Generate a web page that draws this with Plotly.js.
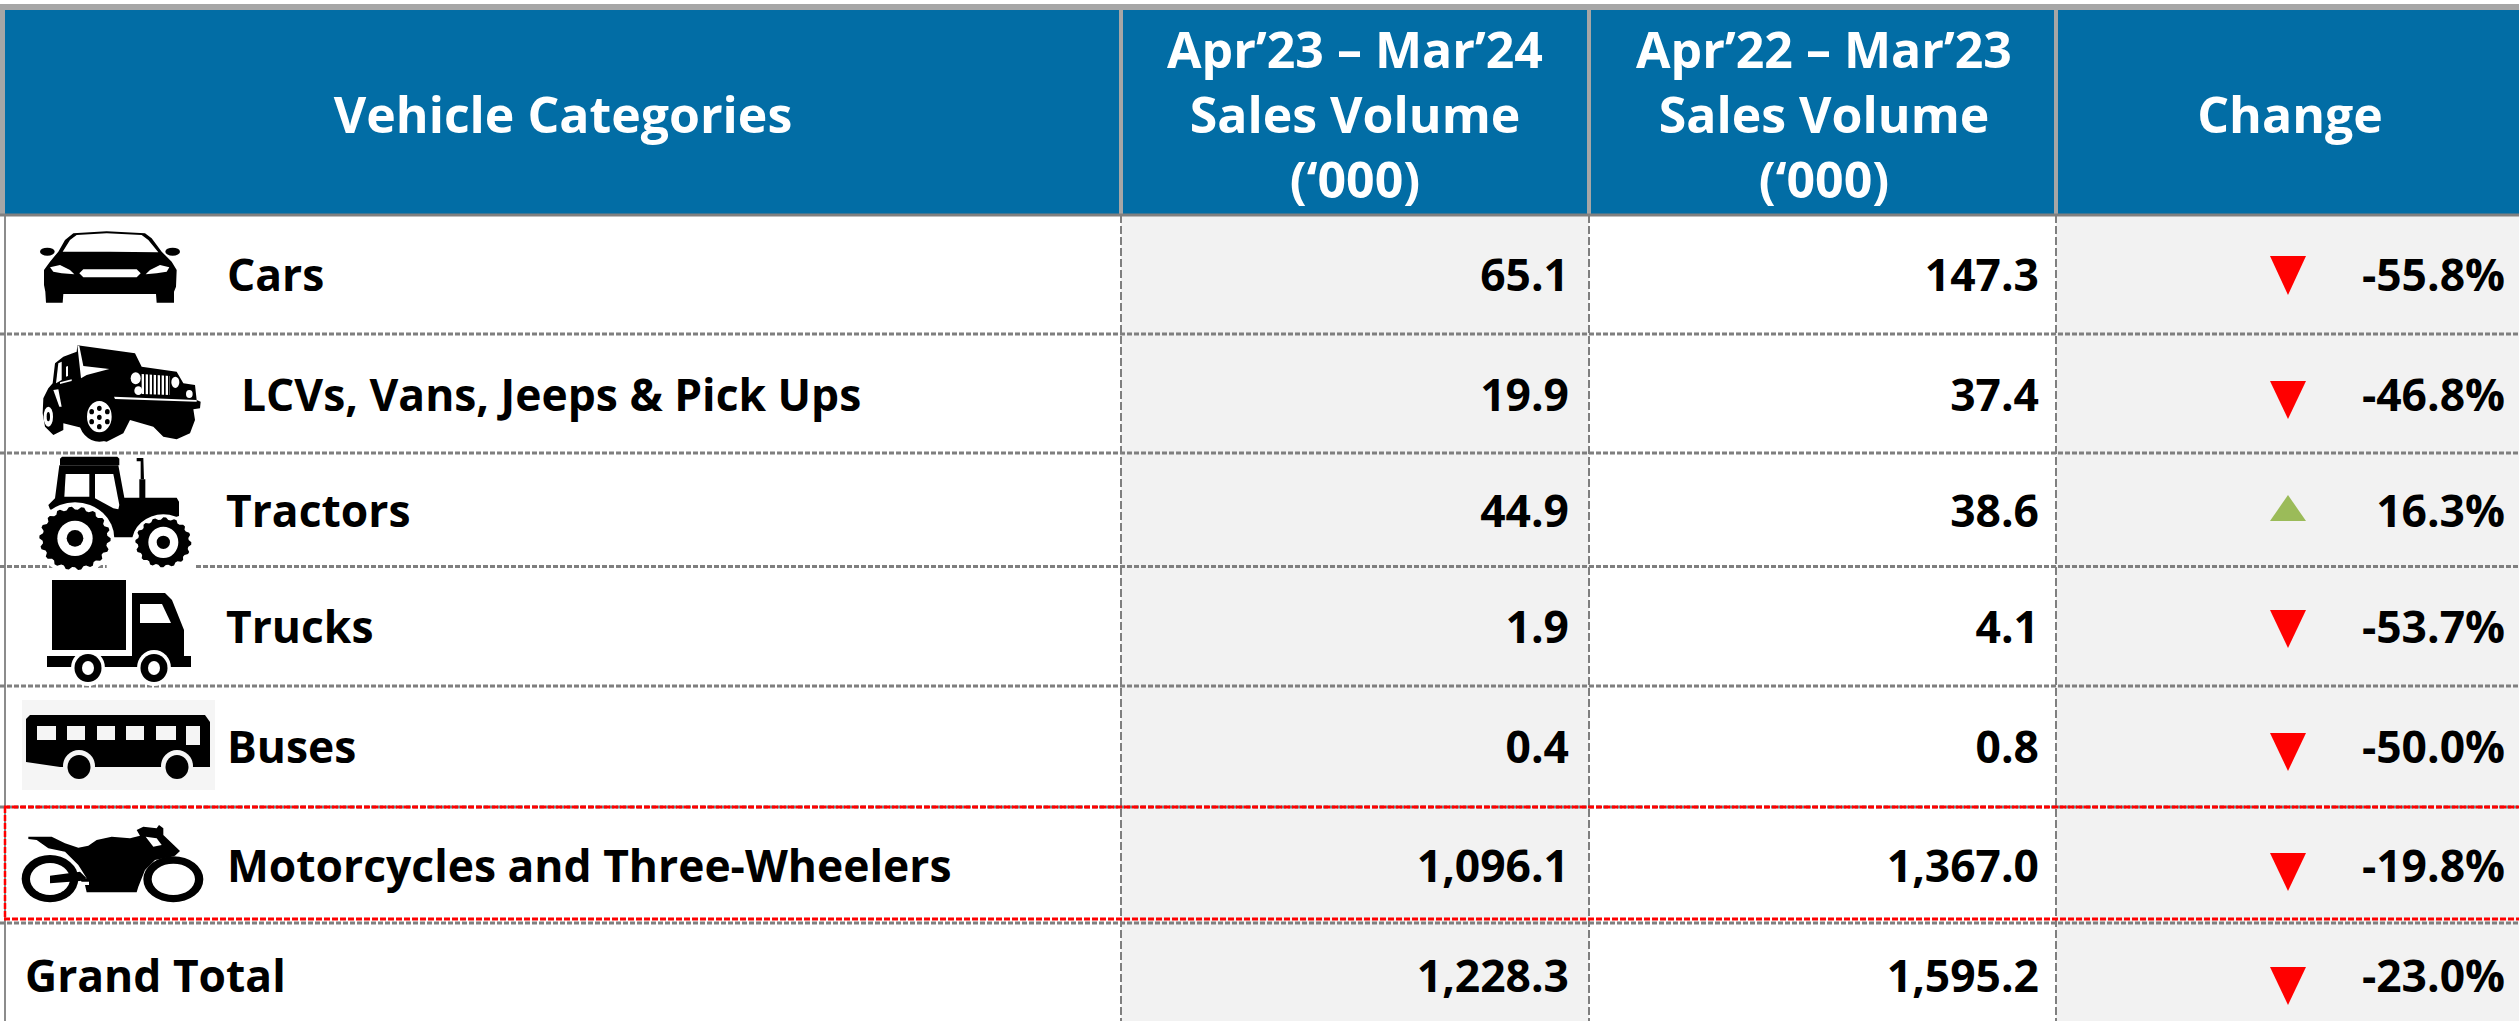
<!DOCTYPE html>
<html><head><meta charset="utf-8">
<script src="https://cdn.plot.ly/plotly-3.0.1.min.js"></script>
<style>html,body{margin:0;padding:0;background:#fff;overflow:hidden}</style>
</head><body><div id="chart" style="width:2519px;height:1021px"></div>
<script>
// ---- data ----
const headerLabels = ["Vehicle Categories","Apr’23 – Mar’24<br>Sales Volume<br>(‘000)","Apr’22 – Mar’23<br>Sales Volume<br>(‘000)","Change"];
const categories = ["Cars","LCVs, Vans, Jeeps & Pick Ups","Tractors","Trucks","Buses","Motorcycles and Three-Wheelers","Grand Total"];
const salesFY24 = [65.1,19.9,44.9,1.9,0.4,1096.1,1228.3];
const salesFY23 = [147.3,37.4,38.6,4.1,0.8,1367.0,1595.2];
const changePct = [-55.8,-46.8,16.3,-53.7,-50.0,-19.8,-23.0];

// ---- geometry of the table (pixel axes) ----
const W=2519,H=1021;
const colEdges=[5,1121,1589,2056,W];
const rowEdges=[215,334,453,566.5,686,807,923,H];
const rowTextY=[280,400,516,632,752,871,981];
const labelX=[227,241,226,226,227,227,25];
const headerX=[563,1355,1824,2290];
const headerY=[120,120,120,120];
const triY=[[256,295],[381,419],[495,521],[610,648],[733,771],[853,891],[967,1005]];
const triX=[2270,2306];
const FONT='Open Sans';
const fmt=v=>v.toLocaleString('en-US',{minimumFractionDigits:1,maximumFractionDigits:1});
const fmtPct=v=>v.toFixed(1)+'%';

const shapes=[];
const rect=(x0,y0,x1,y1,c,layer)=>shapes.push({type:'rect',x0,y0,x1,y1,fillcolor:c,line:{width:0},layer:layer||'below'});
const line=(x0,y0,x1,y1,c,w,d)=>shapes.push({type:'line',x0,y0,x1,y1,line:{color:c,width:w,dash:d||'solid'},layer:'below'});
const ell=(cx,cy,rx,ry,c)=>shapes.push({type:'circle',x0:cx-rx,x1:cx+rx,y0:cy-ry,y1:cy+ry,fillcolor:c,line:{width:0},layer:'above'});
const poly=(pts,c)=>shapes.push({type:'path',path:'M'+pts.map(p=>p.join(',')).join('L')+'Z',fillcolor:c,line:{width:0},layer:'above'});
const box=(x0,y0,x1,y1,c)=>rect(x0,y0,x1,y1,c,'above');
// icon drawing in the 3x crop coordinates of an icon box
const icon=(ox,oy)=>({
  p:(pts,c='#000')=>poly(pts.map(([x,y])=>[ox+x/3,oy+y/3]),c),
  e:(x,y,rx,ry,c='#000')=>ell(ox+x/3,oy+y/3,rx/3,ry/3,c),
  gear:(cx,cy,rx,ry,n)=>{const pts=[];for(let i=0;i<n*4;i++){const a=i/(n*4)*2*Math.PI,k=(i%4<2)?1:0.91;pts.push([cx+rx*k*Math.cos(a),cy+ry*k*Math.sin(a)]);}
    poly(pts.map(([x,y])=>[ox+x/3,oy+y/3]),'#000');}
});

// backgrounds
rect(colEdges[1],rowEdges[0],colEdges[2],H,'#f2f2f2');
rect(colEdges[3],rowEdges[0],W,H,'#f2f2f2');
rect(0,10,W,rowEdges[0],'#026da5');
rect(0,4,W,10,'#a6a6a6');
rect(0,4,5,rowEdges[0],'#a6a6a6');
for(const i of [1,2,3]) line(colEdges[i],10,colEdges[i],rowEdges[0],'#a6a6a6',4);
for(const i of [1,2,3]) line(colEdges[i],rowEdges[0],colEdges[i],H,'#7f7f7f',2,'8px,3px');
line(5,rowEdges[0],5,H,'#8c8c8c',2);
for(const i of [1,2,3,4,5,6]) line(0,rowEdges[i],W,rowEdges[i],'#7f7f7f',3,'5px,2px');
line(0,rowEdges[0],W,rowEdges[0],'#808080',3);
// highlight of the motorcycles row
line(4,807,W,807,'#ff0000',3,'6px,2px');
line(4,919,W,919,'#ff0000',3,'6px,2px');
line(5,807,5,919,'#ff0000',2.5,'6px,2px');

// change triangles, driven by the sign of the change
changePct.forEach((v,i)=>{
  const [t,b]=triY[i],[l,r]=triX,m=(l+r)/2;
  if(v<0) poly([[l,t],[r,t],[m,b]],'#ff0000');
  else poly([[l,b],[r,b],[m,t]],'#9bbb59');
});

// ---- icons ----
// car
{const k=icon(20,220);
 k.e(82,95,22,12);k.e(458,95,22,12);
 k.p([[115,95],[135,60],[160,40],[260,34],[375,40],[395,55],[425,95],[455,125],[470,150],[468,200],[462,215],[462,248],[410,248],[408,222],[130,222],[128,248],[78,248],[76,215],[72,195],[72,150],[90,125]]);
 k.p([[128,95],[150,60],[170,45],[260,40],[365,45],[385,60],[415,97],[270,95]],'#fff');
 k.p([[90,142],[120,135],[150,150],[163,163],[125,160],[100,155]],'#fff');
 k.p([[377,163],[390,150],[420,135],[448,142],[440,155],[410,160]],'#fff');
 k.p([[190,148],[350,148],[362,160],[350,172],[190,172],[178,160]],'#fff');
}
// jeep
{const k=icon(20,220);
 k.p([[172,376],[345,400],[365,440],[470,455],[490,490],[525,495],[530,540],[542,545],[540,565],[520,568],[525,600],[510,640],[470,658],[430,650],[400,620],[330,600],[310,640],[260,665],[215,655],[190,625],[130,610],[130,630],[100,645],[75,620],[68,580],[70,535],[85,505],[98,490],[105,430],[130,410],[170,395]]);
 k.e(238,597,62,68);k.e(238,590,37,47,'#fff');
 for(const [x,y] of [[238,565],[262,575],[262,605],[238,620],[215,605],[215,575],[238,592]]) k.e(x,y,7,8);
 k.e(85,590,14,30,'#fff');k.e(85,590,5,14);
 k.p([[172,376],[178,378],[190,438],[268,447],[200,465],[183,475]],'#fff');
 k.p([[108,490],[115,430],[125,425],[125,480]],'#fff');
 k.p([[138,440],[144,438],[144,468],[138,470]],'#fff');
 k.p([[120,487],[155,478],[155,483],[120,492]],'#fff');
 k.p([[100,510],[115,508],[125,560],[118,560]],'#fff');
 k.p([[365,462],[450,468],[450,525],[365,522]],'#fff');
 for(let x=372;x<448;x+=12) k.p([[x,460],[x+5,460],[x+5,528],[x,528]]);
 k.e(347,475,15,18,'#fff');k.e(355,512,12,13,'#fff');k.e(466,487,12,17,'#fff');k.e(508,522,10,12,'#fff');
 k.p([[282,530],[530,540],[530,545],[285,537]],'#fff');
}
// tractor
{const k=icon(30,450);
 k.p([[96,20],[262,20],[268,26],[268,46],[90,46],[90,26]]);
 k.p([[88,46],[265,46],[283,143],[328,143],[328,88],[346,88],[346,143],[440,143],[447,155],[447,198],[447,240],[250,262],[60,178],[55,165],[75,145]]);
 k.p([[320,24],[340,24],[342,88],[332,88],[332,34],[320,34]]);
 k.p([[107,72],[178,72],[178,140],[103,140]],'#fff');
 k.p([[195,72],[250,72],[268,165],[265,178],[250,175],[195,145]],'#fff');
 k.p([[230,262],[447,198],[500,360],[230,360]],'#fff');
 k.p([[240,200],[447,198],[370,200],[330,225],[310,262],[240,262]]);
 k.e(135,265,118,108,'#fff');k.gear(135,265,107,95,18);k.e(135,265,53,53,'#fff');k.e(135,265,25,25);
 k.e(400,277,94,84,'#fff');k.gear(400,277,84,75,16);k.e(400,277,45,47,'#fff');k.e(400,277,20,20);
}
// truck
box(52,580,126,650,'#000');
poly([[132,593],[165,593],[172,600],[184,630],[184,657],[132,657]],'#000');
poly([[140,604],[162,604],[171,623],[140,623]],'#fff');
box(47,656,191,667,'#000');
for(const cx of [88,154]){ell(cx,668,17,18,'#fff');ell(cx,668,13.5,14,'#000');ell(cx,668,6,7,'#fff');}
// bus
rect(22,700,215,790,'#f5f5f5','above');
poly([[26,719],[30,715],[205,715],[210,722],[210,767],[60,767],[26,762]],'#000');
for(const [a,b] of [[37,56],[67,85],[97,115],[126,144],[156,176]]) box(a,726,b,740,'#f5f5f5');
box(186,726,200,745,'#f5f5f5');
for(const cx of [79,177]){ell(cx,766,16,16,'#f5f5f5');ell(cx,767,11.5,12,'#000');}
// motorcycle
{const k=icon(15,815);
 k.p([[40,65],[110,65],[150,85],[190,98],[220,92],[245,75],[290,65],[345,70],[375,62],[365,45],[385,35],[425,40],[432,30],[445,40],[445,60],[495,108],[480,122],[470,125],[420,135],[390,165],[370,215],[365,232],[215,232],[210,210],[195,195],[215,190],[190,150],[150,110],[100,100],[65,75],[40,72]]);
 k.e(105,191,85,71);k.e(105,192,60,48,'#fff');
 k.e(475,193,90,69);k.e(475,193,65,47,'#fff');
 k.p([[105,182],[195,170],[215,190],[195,198],[105,205]]);
 k.p([[200,200],[222,200],[222,210],[197,210]],'#fff');
 k.p([[392,65],[425,70],[440,90],[415,95]],'#fff');
}

// ---- traces ----
const textTrace=(x,y,text,pos,size,color)=>({type:'scatter',mode:'text',x,y,text,textposition:pos,cliponaxis:false,hoverinfo:'skip',
  textfont:{family:FONT,size,color,weight:700},showlegend:false});
const data=[
  textTrace(headerX,headerY,headerLabels,'middle center',50,'#ffffff'),
  textTrace(labelX,rowTextY,categories,'middle right',44.4,'#000000'),
  textTrace(rowTextY.map(()=>1569),rowTextY,salesFY24.map(fmt),'middle left',44.4,'#000000'),
  textTrace(rowTextY.map(()=>2039),rowTextY,salesFY23.map(fmt),'middle left',44.4,'#000000'),
  textTrace(rowTextY.map(()=>2505),rowTextY,changePct.map(fmtPct),'middle left',44.4,'#000000')
];
const layout={width:W,height:H,margin:{l:0,r:0,t:0,b:0,pad:0},paper_bgcolor:'#ffffff',plot_bgcolor:'#ffffff',showlegend:false,
  xaxis:{range:[0,W],visible:false,fixedrange:true},
  yaxis:{range:[H,0],visible:false,fixedrange:true},shapes};
Plotly.newPlot('chart',data,layout,{displayModeBar:false,staticPlot:true});
</script></body></html>
